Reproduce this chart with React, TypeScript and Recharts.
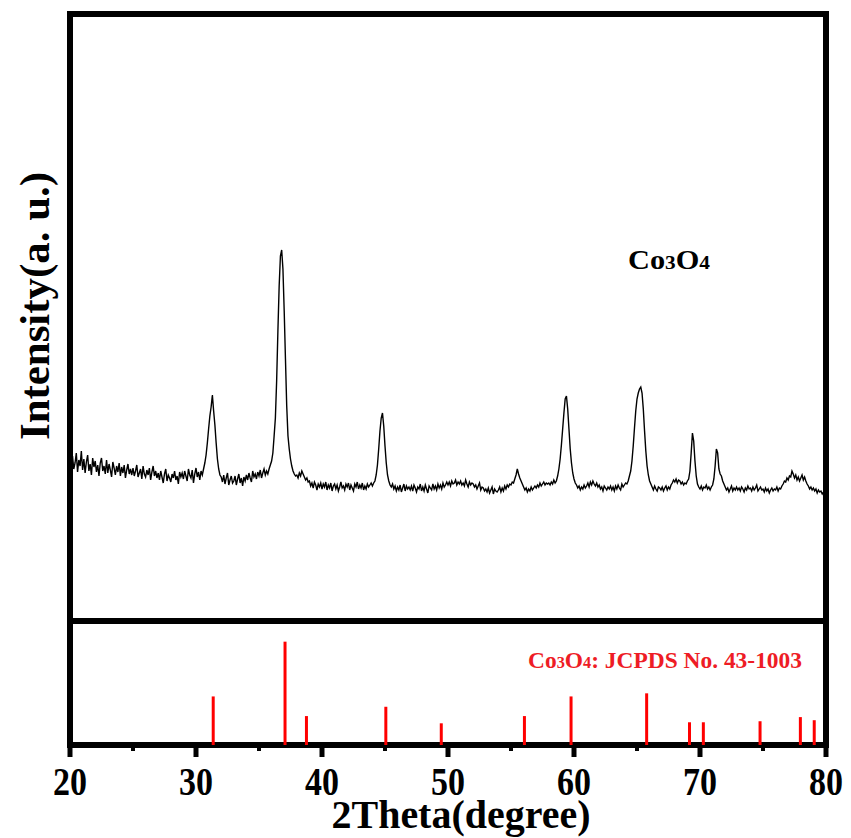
import { LineChart, Line, BarChart, Bar, XAxis, YAxis, ReferenceArea } from 'recharts'

const W = 851
const H = 838
const SERIF = '"Liberation Serif", "Times New Roman", serif'

// XRD pattern, one value every 0.1 degree starting at 20
const counts20s = [
  160, 150, 165, 152, 158, 168, 149, 161, 155, 170,
  151, 162, 148, 159, 166, 150, 157, 146, 163, 154,
  160, 149, 156, 145, 158, 163, 150, 155, 147, 161,
  148, 157, 151, 144, 159, 153, 146, 155, 149, 158,
  145, 154, 148, 156, 143, 151, 157, 147, 152, 146,
  153, 145, 150, 156, 144, 148, 152, 142, 155, 147,
  144, 151, 146, 153, 141, 149, 155, 145, 150, 143,
  148, 141, 150, 144, 138, 147, 152, 140, 146, 143,
  139, 147, 143, 150, 141, 145, 137, 149, 144, 148,
  142, 150, 145, 140, 152, 146, 143, 151, 138, 147,
]
const counts30s = [
  153, 144, 149, 141, 150, 146, 152, 158, 166, 178,
  192, 205, 214, 226, 210, 196, 178, 162, 152, 146,
  144, 139, 146, 137, 143, 148, 136, 141, 145, 138,
  140, 145, 136, 142, 147, 138, 143, 135, 144, 140,
  146, 141, 148, 143, 139, 150, 144, 147, 142, 149,
  145, 151, 143, 148, 152, 146, 150, 147, 152, 156,
  160, 168, 185, 203, 240, 290, 335, 365, 371, 352,
  310, 262, 215, 185, 172, 162, 155, 150, 147, 145,
  146, 143, 148, 145, 150, 147, 144, 141, 143, 139,
  140, 135, 138, 133, 139, 136, 131, 137, 134, 138,
]
const counts40s = [
  132, 137, 134, 139, 131, 136, 133, 138, 130, 135,
  137, 132, 136, 130, 134, 139, 133, 135, 131, 137,
  134, 138, 131, 136, 133, 130, 137, 134, 139, 132,
  136, 133, 138, 131, 135, 132, 137, 134, 136, 138,
  135, 138, 140, 146, 156, 172, 190, 203, 208, 195,
  175, 158, 146, 140, 136, 134, 137, 132, 135, 130,
  134, 131, 136, 129, 133, 137, 130, 135, 132, 134,
  131, 135, 130, 136, 133, 129, 134, 132, 137, 130,
  134, 130, 136, 132, 128, 135, 133, 131, 137, 132,
  135, 131, 137, 133, 136, 132, 138, 134, 136, 139,
]
const counts50s = [
  136, 139, 135, 140, 137, 138, 141, 136, 139, 137,
  140, 136, 138, 135, 141, 137, 134, 139, 136, 138,
  137, 134, 136, 132, 135, 138, 131, 134, 133, 130,
  132, 129, 133, 128, 131, 134, 127, 132, 130, 129,
  131, 134, 129, 133, 130, 135, 132, 136, 134, 137,
  136, 139, 138, 142, 146, 152, 147, 143, 140, 137,
  134, 131, 133, 129, 132, 130, 134, 131, 133, 135,
  133, 136, 134, 138, 135, 137, 139, 136, 138, 137,
  138, 136, 139, 137, 141, 138, 140, 145, 152, 162,
  176, 192, 208, 222, 225, 212, 192, 172, 158, 148,
]
const counts60s = [
  142, 138, 136, 133, 135, 131, 134, 132, 136, 133,
  135, 138, 134, 139, 136, 140, 137, 135, 138, 134,
  136, 132, 134, 130, 135, 133, 131, 134, 132, 135,
  131, 134, 130, 135, 132, 136, 133, 131, 137, 134,
  136, 138, 137, 140, 145, 150, 160, 175, 193, 210,
  222, 228, 232, 234, 228, 212, 190, 170, 155, 146,
  140, 137, 134, 131, 135, 132, 130, 134, 133, 131,
  134, 130, 133, 135, 131, 134, 132, 136, 138, 141,
  139, 142, 138, 141, 140, 137, 139, 136, 138, 137,
  140, 142, 150, 168, 188, 180, 160, 145, 137, 134,
]
const counts70s = [
  132, 135, 131, 134, 133, 136, 132, 134, 131, 134,
  136, 142, 155, 172, 168, 152, 147, 145, 140, 137,
  134, 131, 133, 129, 132, 135, 130, 133, 131, 134,
  131, 133, 130, 134, 132, 129, 133, 131, 135, 132,
  133, 130, 134, 131, 133, 136, 130, 132, 134, 131,
  132, 129, 133, 130, 132, 128, 131, 133, 130, 132,
  131, 134, 130, 133, 132, 135, 137, 140, 139, 143,
  141, 145, 144, 150, 147, 143, 146, 141, 144, 140,
  143, 146, 141, 144, 140, 137, 135, 132, 134, 131,
  133, 130, 132, 128, 131, 129, 130, 127, 129, 126,
  125,
]

// standard card lines (position, relative intensity)
const refPeaks = [31.4, 37.1, 38.8, 45.1, 49.5, 56.1, 59.8, 65.8, 69.2, 70.3, 74.8, 78.0, 79.1]
const refIntensity = [47, 100, 28, 37, 21, 28, 47, 50, 22, 22, 23, 27, 24]

const xTicks = [20, 25, 30, 35, 40, 45, 50, 55, 60, 65, 70, 75, 80]

const pattern = [...counts20s, ...counts30s, ...counts40s, ...counts50s, ...counts60s, ...counts70s]
  .map((v, i) => ({ t: Math.round((20 + i * 0.1) * 10) / 10, v }))

const sticks = refPeaks.map((t, i) => ({ t, i: refIntensity[i] }))

function AxisTick({ x, y, payload }: any) {
  const major = payload.value % 10 === 0
  return (
    <g>
      <line x1={x} x2={x} y1={y} y2={y + (major ? 12 : 6)} stroke="#000" strokeWidth={major ? 5 : 4} />
      {major && (
        <text
          x={x}
          y={y + 50}
          textAnchor="middle"
          fontFamily={SERIF}
          fontWeight="bold"
          fontSize={40}
          textLength={34}
          lengthAdjust="spacingAndGlyphs"
          fill="#000"
        >
          {payload.value}
        </text>
      )}
    </g>
  )
}

export default function App() {
  return (
    <div style={{ position: 'absolute', left: 0, top: 0, width: W, height: H, background: '#fff' }}>
      {/* measured pattern */}
      <div style={{ position: 'absolute', left: 0, top: 0 }}>
        <LineChart width={W} height={H} data={pattern} margin={{ top: 14, right: 25, bottom: 217, left: 70 }}>
          <XAxis type="number" dataKey="t" domain={[20, 80]} hide />
          <YAxis type="number" domain={[0, 607]} hide />
          <ReferenceArea x1={20} x2={80} y1={0} y2={607} fill="none" stroke="#000" strokeWidth={6} />
          <Line
            type="linear"
            dataKey="v"
            stroke="#000"
            strokeWidth={1.4}
            dot={false}
            isAnimationActive={false}
          />
          <text x={628} y={269} fontFamily={SERIF} fontWeight="bold" fontSize={27} fill="#000" textLength={82} lengthAdjust="spacingAndGlyphs">
            Co<tspan fontSize={19}>3</tspan>O<tspan fontSize={19}>4</tspan>
          </text>
          <text
            transform="rotate(-90)"
            x={-306}
            y={49}
            textAnchor="middle"
            fontFamily={SERIF}
            fontWeight="bold"
            fontSize={42}
            textLength={268}
            lengthAdjust="spacingAndGlyphs"
            fill="#000"
          >
            Intensity(a. u.)
          </text>
        </LineChart>
      </div>

      {/* reference card */}
      <div style={{ position: 'absolute', left: 0, top: 0 }}>
        <BarChart width={W} height={H} data={sticks} margin={{ top: 621, right: 25, bottom: 0, left: 70 }}>
          <XAxis
            type="number"
            dataKey="t"
            domain={[20, 80]}
            ticks={xTicks}
            interval={0}
            height={93}
            axisLine={false}
            tickLine={false}
            tickSize={0}
            tickMargin={0}
            tick={<AxisTick />}
          />
          <YAxis type="number" domain={[0, 120]} hide />
          <Bar dataKey="i" fill="#FF0000" barSize={3} isAnimationActive={false} />
          <ReferenceArea x1={20} x2={80} y1={0} y2={120} fill="none" stroke="#000" strokeWidth={6} />
          <text x={528} y={668} fontFamily={SERIF} fontWeight="bold" fontSize={23} fill="#EE1C25" textLength={274} lengthAdjust="spacingAndGlyphs">
            Co<tspan fontSize={16}>3</tspan>O<tspan fontSize={16}>4</tspan>: JCPDS No. 43-1003
          </text>
          <text
            x={461}
            y={828}
            textAnchor="middle"
            fontFamily={SERIF}
            fontWeight="bold"
            fontSize={40}
            textLength={259}
            lengthAdjust="spacingAndGlyphs"
            fill="#000"
          >
            2Theta(degree)
          </text>
        </BarChart>
      </div>
    </div>
  )
}
